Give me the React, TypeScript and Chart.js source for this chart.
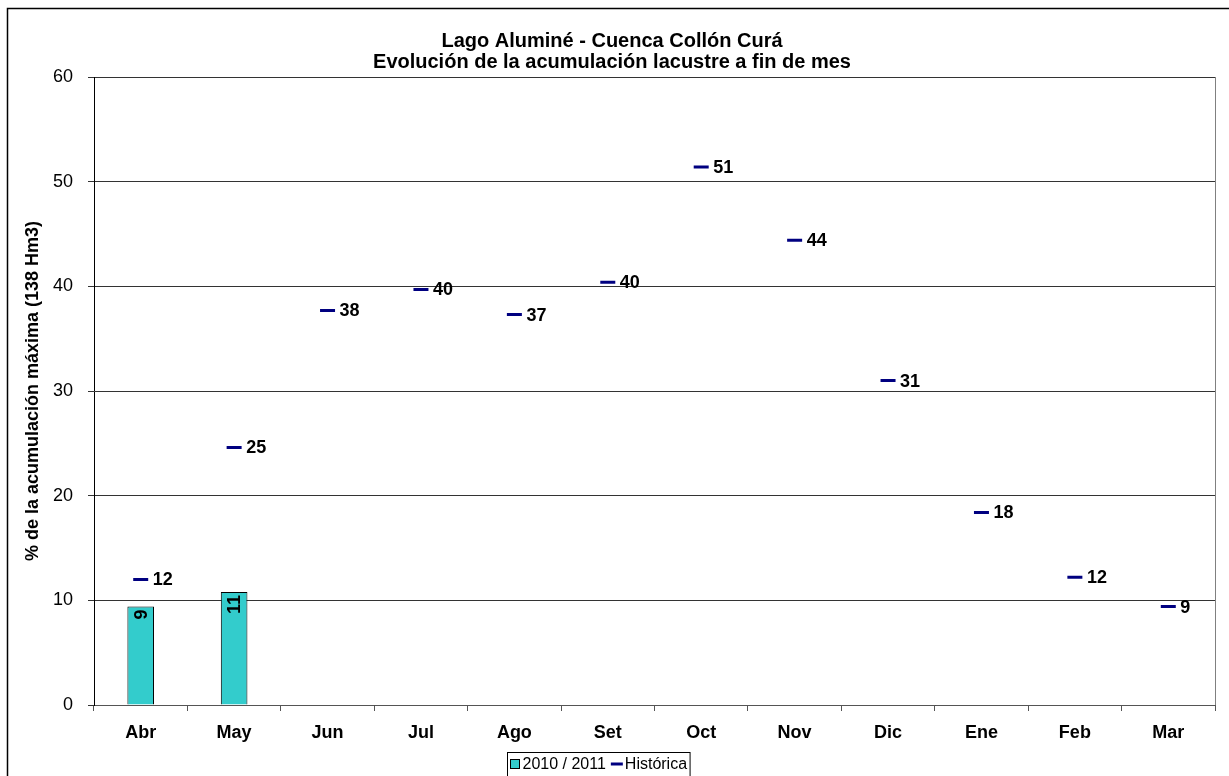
import React, { useEffect, useRef } from "react";
import { Chart, registerables } from "chart.js";

Chart.register(...registerables);

const FONT = "'Liberation Sans', Arial, sans-serif";

const titleLines = ["Lago Aluminé - Cuenca Collón Curá", "Evolución de la acumulación lacustre a fin de mes"];
const yAxisTitle = "% de la acumulación máxima (138 Hm3)";

const months = ["Abr", "May", "Jun", "Jul", "Ago", "Set", "Oct", "Nov", "Dic", "Ene", "Feb", "Mar"];
const seasonName = "2010 / 2011";
const seasonValues: (number | null)[] = [9.4, 10.8, null, null, null, null, null, null, null, null, null, null];
const historicName = "Histórica";
const historicValues = [12.0, 24.6, 37.7, 39.7, 37.3, 40.4, 51.4, 44.4, 31.0, 18.4, 12.2, 9.4];
const yTicks = { min: 0, max: 60, step: 10 };

const BAR_COLOR = "#33CCCC";
const HIST_COLOR = "#000080";

const decor = {
  id: "decor",
  beforeDraw(chart: any) {
    const { ctx, width, height } = chart;
    ctx.save();
    ctx.fillStyle = "#ffffff";
    ctx.fillRect(0, 0, width, height);
    ctx.restore();
  },
  afterDraw(chart: any) {
    const { ctx, chartArea } = chart;
    ctx.save();

    // outer frame (continues past the right and bottom edges)
    ctx.strokeStyle = "#000";
    ctx.lineWidth = 1.5;
    ctx.strokeRect(7.5, 8.5, 1400, 1000);

    // right edge of the plot area
    ctx.strokeStyle = "#808080";
    ctx.lineWidth = 1;
    ctx.beginPath();
    ctx.moveTo(chartArea.right + 0.5, chartArea.top);
    ctx.lineTo(chartArea.right + 0.5, chartArea.bottom);
    ctx.stroke();

    // titles
    ctx.fillStyle = "#000";
    ctx.textAlign = "center";
    ctx.textBaseline = "middle";
    ctx.font = `bold 20px ${FONT}`;
    ctx.fillText(titleLines[0], 612, 41);
    ctx.fillText(titleLines[1], 612, 62);

    // y axis title
    ctx.save();
    ctx.translate(33, (chartArea.top + chartArea.bottom) / 2);
    ctx.rotate(-Math.PI / 2);
    ctx.font = `bold 18px ${FONT}`;
    ctx.fillText(yAxisTitle, 0, 0);
    ctx.restore();

    // value labels, season bars (rotated, inside the top of the bar)
    const barMeta = chart.getDatasetMeta(0);
    ctx.font = `bold 18px ${FONT}`;
    barMeta.data.forEach((el: any, i: number) => {
      const v = seasonValues[i];
      if (v == null) return;
      ctx.save();
      ctx.translate(el.x, el.y + 3);
      ctx.rotate(-Math.PI / 2);
      ctx.textAlign = "right";
      ctx.textBaseline = "middle";
      ctx.fillText(String(Math.round(v)), 0, 1);
      ctx.restore();
    });

    // value labels, historic markers
    const histMeta = chart.getDatasetMeta(1);
    ctx.textAlign = "left";
    ctx.textBaseline = "middle";
    histMeta.data.forEach((el: any, i: number) => {
      ctx.fillText(String(Math.round(historicValues[i])), el.x + 12, el.y + 1);
    });

    // legend
    ctx.font = `16px ${FONT}`;
    const w1 = ctx.measureText(seasonName).width;
    const w2 = ctx.measureText(historicName).width;
    const boxW = 3 + 10 + 2 + w1 + 4 + 13 + 2 + w2 + 3;
    const bx = Math.round(598 - boxW / 2) + 0.5;
    const by = 752.5;
    ctx.strokeStyle = "#000";
    ctx.lineWidth = 1;
    ctx.strokeRect(bx, by, boxW, 40);
    let x = bx + 3;
    const cy = 764;
    ctx.fillStyle = BAR_COLOR;
    ctx.fillRect(x, cy - 4, 9, 9);
    ctx.strokeRect(x, cy - 4.5, 9, 9);
    x += 12;
    ctx.fillStyle = "#000";
    ctx.fillText(seasonName, x, cy + 1);
    x += w1 + 5;
    ctx.strokeStyle = HIST_COLOR;
    ctx.lineWidth = 3;
    ctx.beginPath();
    ctx.moveTo(x, cy);
    ctx.lineTo(x + 12, cy);
    ctx.stroke();
    x += 14;
    ctx.fillText(historicName, x, cy + 1);

    ctx.restore();
  },
};

export default function App() {
  const ref = useRef<HTMLCanvasElement | null>(null);

  useEffect(() => {
    const canvas = ref.current;
    if (!canvas) return;
    const chart = new Chart(canvas, {
      type: "bar",
      data: {
        labels: months,
        datasets: [
          {
            type: "bar",
            label: seasonName,
            data: seasonValues,
            backgroundColor: BAR_COLOR,
            borderColor: "#000",
            borderWidth: 1,
            barPercentage: 0.285,
            categoryPercentage: 1,
            order: 2,
          } as any,
          {
            type: "line",
            label: historicName,
            data: historicValues,
            showLine: false,
            pointStyle: "line",
            pointRadius: 7.5,
            pointHoverRadius: 7.5,
            pointBorderWidth: 3,
            pointBorderColor: HIST_COLOR,
            borderColor: HIST_COLOR,
            backgroundColor: HIST_COLOR,
            order: 1,
          } as any,
        ],
      },
      options: {
        responsive: false,
        animation: false,
        devicePixelRatio: 1,
        events: [],
        layout: { padding: { top: 77, right: 14, bottom: 0, left: 0 } },
        plugins: {
          legend: { display: false },
          title: { display: false },
          tooltip: { enabled: false },
        },
        scales: {
          x: {
            offset: true,
            grid: {
              display: true,
              drawOnChartArea: false,
              drawTicks: true,
              tickLength: 6,
              color: "#555",
              offset: true,
            },
            border: { display: true, color: "#555", width: 1 },
            ticks: {
              color: "#000",
              font: { family: FONT, size: 18, weight: "bold" },
              padding: 11,
              maxRotation: 0,
              autoSkip: false,
            },
            afterFit: (s: any) => {
              s.height = 71;
            },
          },
          y: {
            min: yTicks.min,
            max: yTicks.max,
            ticks: {
              stepSize: yTicks.step,
              color: "#000",
              font: { family: FONT, size: 18 },
              padding: 15,
            },
            grid: { color: "#333", tickLength: 6 },
            border: { color: "#000" },
            afterFit: (s: any) => {
              s.width = 94;
            },
          },
        },
      } as any,
      plugins: [decor],
    });
    return () => chart.destroy();
  }, []);

  return (
    <div style={{ position: "fixed", left: 0, top: 0, width: 1229, height: 776, overflow: "hidden", background: "#fff" }}>
      <canvas ref={ref} width={1229} height={776} style={{ display: "block", width: 1229, height: 776 }} />
    </div>
  );
}
